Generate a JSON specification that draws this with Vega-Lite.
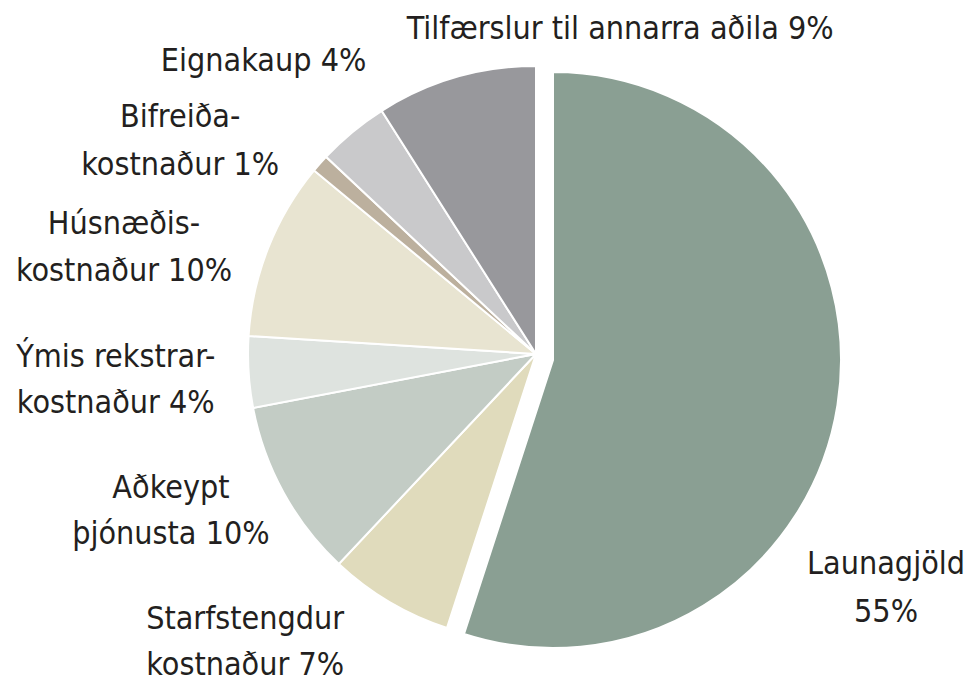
{
  "$schema": "https://vega.github.io/schema/vega-lite/v6.json",
  "width": 868,
  "height": 660,
  "autosize": {"type": "none"},
  "padding": {"left": 102, "top": 24, "right": 0, "bottom": 0},
  "background": "white",
  "config": {"view": {"stroke": null}, "font": "DejaVu Sans Condensed"},
  "data": {"values": [
    {"cat": "Launagjöld", "v": 55, "i": 1, "label": "Launagjöld\n55%"},
    {"cat": "Starfstengdur kostnaður", "v": 7, "i": 2, "label": "Starfstengdur\nkostnaður 7%"},
    {"cat": "Aðkeypt þjónusta", "v": 10, "i": 3, "label": "Aðkeypt\nþjónusta 10%"},
    {"cat": "Ýmis rekstrarkostnaður", "v": 4, "i": 4, "label": "Ýmis rekstrar-\nkostnaður 4%"},
    {"cat": "Húsnæðiskostnaður", "v": 10, "i": 5, "label": "Húsnæðis-\nkostnaður 10%"},
    {"cat": "Bifreiðakostnaður", "v": 1, "i": 6, "label": "Bifreiða-\nkostnaður 1%"},
    {"cat": "Eignakaup", "v": 4, "i": 7, "label": "Eignakaup 4%"},
    {"cat": "Tilfærslur til annarra aðila", "v": 9, "i": 8, "label": "Tilfærslur til annarra aðila 9%"}
  ]},
  "encoding": {
    "theta": {"field": "v", "type": "quantitative", "stack": true},
    "order": {"field": "i", "type": "quantitative"},
    "detail": {"field": "cat", "type": "nominal"}
  },
  "layer": [
    {
      "mark": {"type": "arc", "radius": 288, "stroke": "white", "strokeWidth": 2},
      "encoding": {
        "color": {"field": "cat", "type": "nominal", "legend": null,
          "scale": {"domain": ["Launagjöld", "Starfstengdur kostnaður", "Aðkeypt þjónusta", "Ýmis rekstrarkostnaður", "Húsnæðiskostnaður", "Bifreiðakostnaður", "Eignakaup", "Tilfærslur til annarra aðila"],
                    "range": ["#8a9f93", "#e0dbbc", "#c3ccc5", "#dee3df", "#e8e4d1", "#bcb09e", "#c9c9cb", "#98989c"]}},
        "opacity": {"condition": {"test": "datum.i === 1", "value": 0}, "value": 1}
      }
    },
    {
      "mark": {"type": "arc", "radius": 288, "stroke": "white", "strokeWidth": 2, "xOffset": 17, "yOffset": 6},
      "encoding": {
        "color": {"field": "cat", "type": "nominal", "legend": null},
        "opacity": {"condition": {"test": "datum.i === 1", "value": 1}, "value": 0}
      }
    },
    {
      "mark": {"type": "text", "radius": 420.7, "thetaOffset": 0.431, "dy": -23, "align": "center", "baseline": "middle", "fontSize": 32, "lineHeight": 48, "lineBreak": "\n", "color": "#231f20"},
      "encoding": {"text": {"condition": {"test": "datum.i === 1", "field": "label"}, "value": ""}}
    },
    {
      "mark": {"type": "text", "radius": 409, "thetaOffset": 0.257, "dy": -23, "align": "center", "baseline": "middle", "fontSize": 32, "lineHeight": 46, "lineBreak": "\n", "color": "#231f20"},
      "encoding": {"text": {"condition": {"test": "datum.i === 2", "field": "label"}, "value": ""}}
    },
    {
      "mark": {"type": "text", "radius": 397.5, "thetaOffset": 0.096, "dy": -23, "align": "center", "baseline": "middle", "fontSize": 32, "lineHeight": 46, "lineBreak": "\n", "color": "#231f20"},
      "encoding": {"text": {"condition": {"test": "datum.i === 3", "field": "label"}, "value": ""}}
    },
    {
      "mark": {"type": "text", "radius": 421, "thetaOffset": 0.002, "dy": -23, "align": "center", "baseline": "middle", "fontSize": 32, "lineHeight": 46, "lineBreak": "\n", "color": "#231f20"},
      "encoding": {"text": {"condition": {"test": "datum.i === 4", "field": "label"}, "value": ""}}
    },
    {
      "mark": {"type": "text", "radius": 425.5, "thetaOffset": -0.124, "dy": -23, "align": "center", "baseline": "middle", "fontSize": 32, "lineHeight": 47, "lineBreak": "\n", "color": "#231f20"},
      "encoding": {"text": {"condition": {"test": "datum.i === 5", "field": "label"}, "value": ""}}
    },
    {
      "mark": {"type": "text", "radius": 415, "thetaOffset": -0.182, "dy": -23, "align": "center", "baseline": "middle", "fontSize": 32, "lineHeight": 48, "lineBreak": "\n", "color": "#231f20"},
      "encoding": {"text": {"condition": {"test": "datum.i === 6", "field": "label"}, "value": ""}}
    },
    {
      "mark": {"type": "text", "radius": 400, "thetaOffset": -0.058, "align": "center", "baseline": "middle", "fontSize": 32, "lineHeight": 46, "lineBreak": "\n", "color": "#231f20"},
      "encoding": {"text": {"condition": {"test": "datum.i === 7", "field": "label"}, "value": ""}}
    },
    {
      "mark": {"type": "text", "radius": 338.6, "thetaOffset": 0.534, "dy": 3, "align": "center", "baseline": "middle", "fontSize": 32, "lineHeight": 46, "lineBreak": "\n", "color": "#231f20"},
      "encoding": {"text": {"condition": {"test": "datum.i === 8", "field": "label"}, "value": ""}}
    }
  ]
}
